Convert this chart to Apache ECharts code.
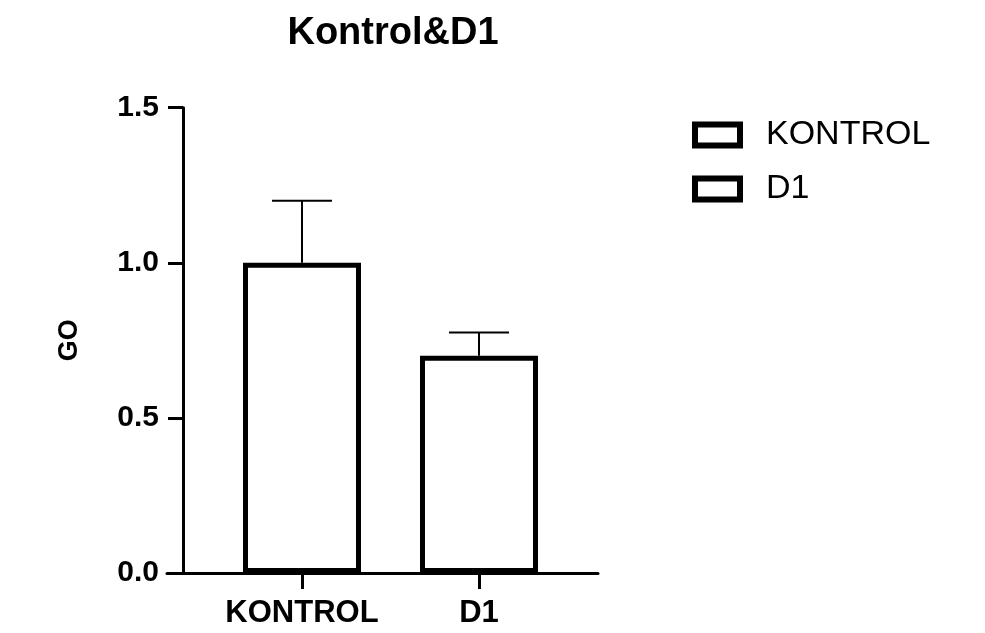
<!DOCTYPE html>
<html>
<head>
<meta charset="utf-8">
<script src="https://cdn.jsdelivr.net/npm/echarts@6/dist/echarts.min.js"></script>
<style>
html,body{margin:0;padding:0;background:#fff;}
#c{width:985px;height:633px;}
</style>
</head>
<body>
<div id="c"></div>
<script>
const categories = ['KONTROL', 'D1'];
const means = [1.0, 0.70];
const sems = [0.20, 0.075];
const yTicks = [0, 0.5, 1.0, 1.5];
const titleText = 'Kontrol&D1';
const yName = 'GO';

const FONT = "'Liberation Sans', Arial, sans-serif";
const chart = echarts.init(document.getElementById('c'), null, {renderer: 'canvas'});

const barSeries = categories.map((name, i) => ({
  name: name,
  type: 'bar',
  xAxisIndex: 0,
  yAxisIndex: 0,
  barWidth: 118,
  barGap: '-100%',
  data: categories.map((c, j) => (j === i ? means[i] : '-')),
  itemStyle: {color: 'rgba(255,255,255,0)', borderColor: '#000', borderWidth: 5},
  emphasis: {disabled: true},
  z: 3
}));

const errData = categories.map((c, i) => [i, means[i], means[i] + sems[i]]);

const frameIcon = 'path://M0,0L51,0L51,27L0,27Z M6,6L6,21L45,21L45,6Z';

const option = {
  animation: false,
  backgroundColor: '#fff',
  title: {
    text: titleText,
    left: 388,
    textAlign: 'center',
    top: 10,
    textStyle: {fontFamily: FONT, fontWeight: 'bold', fontSize: 38, color: '#000'}
  },
  legend: {
    orient: 'vertical',
    left: 687,
    top: 113,
    itemWidth: 51,
    itemHeight: 27,
    itemGap: 20,
    icon: frameIcon,
    data: categories,
    selectedMode: false,
    itemStyle: {color: '#000', borderWidth: 0},
    textStyle: {fontFamily: FONT, fontSize: 34, color: '#000', padding: [0, 0, 0, 18]}
  },
  grid: [
    {left: 213.5, right: 417.5, top: 107.7, bottom: 60, containLabel: false},
    {left: 167, right: 387, top: 107.7, bottom: 60, containLabel: false}
  ],
  xAxis: [
    {
      type: 'category',
      gridIndex: 0,
      data: categories,
      axisLine: {show: false},
      axisTick: {show: true, alignWithLabel: true, length: 16, lineStyle: {color: '#000', width: 3}, inside: false},
      axisLabel: {interval: 0, fontFamily: FONT, fontWeight: 'bold', fontSize: 31, color: '#000', margin: 25},
      splitLine: {show: false}
    },
    {
      type: 'value',
      gridIndex: 1,
      min: 0, max: 1,
      axisLine: {show: true, lineStyle: {color: '#000', width: 3}},
      axisTick: {show: false},
      axisLabel: {show: false},
      splitLine: {show: false}
    }
  ],
  yAxis: [
    {
      type: 'value',
      gridIndex: 0,
      min: yTicks[0],
      max: yTicks[yTicks.length - 1],
      interval: yTicks[1] - yTicks[0],
      offset: 30.5,
      name: yName,
      nameLocation: 'middle',
      nameGap: 100,
      nameRotate: 90,
      nameTextStyle: {fontFamily: FONT, fontWeight: 'bold', fontSize: 27, color: '#000'},
      axisLine: {show: true, lineStyle: {color: '#000', width: 3}},
      axisTick: {show: true, length: 15, lineStyle: {color: '#000', width: 3}},
      axisLabel: {fontFamily: FONT, fontWeight: 'bold', fontSize: 30, color: '#000', margin: 24,
        formatter: v => v.toFixed(1)},
      splitLine: {show: false}
    },
    {
      type: 'value',
      gridIndex: 1,
      min: 0, max: 1,
      show: false
    }
  ],
  series: barSeries.concat([{
    name: 'err',
    type: 'custom',
    xAxisIndex: 0,
    yAxisIndex: 0,
    data: errData,
    encode: {x: 0, y: [1, 2]},
    z: 2,
    renderItem: function (params, api) {
      const x = api.value(0);
      const p0 = api.coord([x, api.value(1)]);
      const p1 = api.coord([x, api.value(2)]);
      return {
        type: 'group',
        children: [
          {type: 'line', shape: {x1: p0[0], y1: p0[1], x2: p1[0], y2: p1[1]}, style: {stroke: '#000', lineWidth: 2}},
          {type: 'line', shape: {x1: p1[0] - 30, y1: p1[1], x2: p1[0] + 30, y2: p1[1]}, style: {stroke: '#000', lineWidth: 2}}
        ]
      };
    }
  }])
};
chart.setOption(option);
</script>
</body>
</html>
